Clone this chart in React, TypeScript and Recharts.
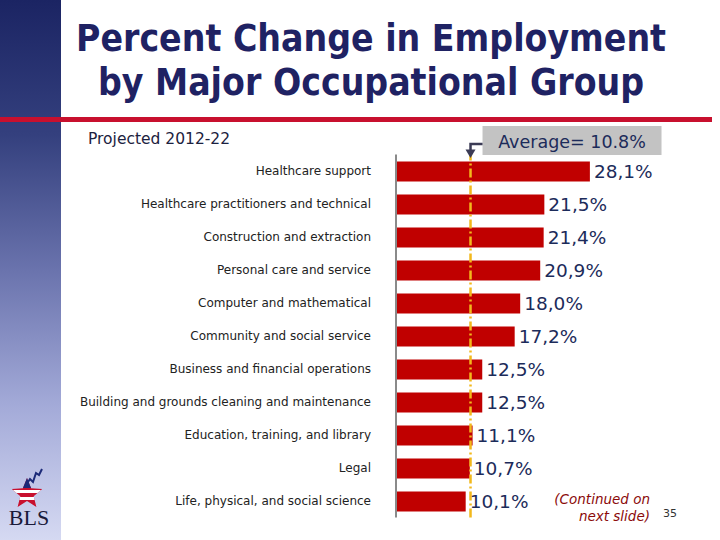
import React from 'react';
import { BarChart, Bar, XAxis, YAxis, ReferenceLine, LabelList } from 'recharts';

const categories = [
  'Healthcare support',
  'Healthcare practitioners and technical',
  'Construction and extraction',
  'Personal care and service',
  'Computer and mathematical',
  'Community and social service',
  'Business and financial operations',
  'Building and grounds cleaning and maintenance',
  'Education, training, and library',
  'Legal',
  'Life, physical, and social science',
];
const values = [28.1, 21.5, 21.4, 20.9, 18.0, 17.2, 12.5, 12.5, 11.1, 10.7, 10.1];
const average = 10.8;
const averageText = 'Average= 10.8%';
const titleLines = ['Percent Change in Employment', 'by Major Occupational Group'];
const subtitle = 'Projected 2012-22';
const footnoteLines = ['(Continued on', 'next slide)'];
const pageNumber = '35';

const data = categories.map((name, i) => ({ name, value: values[i] }));

const fmt = (v: any) => Number(v).toFixed(1).replace('.', ',') + '%';

function AvgLabel(props: any) {
  const vb = props.viewBox || {};
  const x = vb.x ?? 0;
  const top = vb.y ?? 0;
  const boxLeft = x + 12;
  const boxW = 179;
  return (
    <g>
      <rect x={boxLeft} y={top - 28.5} width={boxW} height={29} fill="#c3c3c3" />
      <text
        x={boxLeft + boxW / 2}
        y={top - 7}
        textAnchor="middle"
        fill="#1c2b5a"
        fontSize={17.5}
        fontFamily="DejaVu Sans, sans-serif"
      >
        {averageText}
      </text>
      <path
        d={`M ${boxLeft} ${top - 10.5} H ${x} V ${top - 3}`}
        fill="none"
        stroke="#3b3b55"
        strokeWidth={2.5}
      />
      <polygon
        points={`${x - 5},${top - 5} ${x + 5},${top - 5} ${x},${top + 3.5}`}
        fill="#3b3b55"
      />
    </g>
  );
}

function BlsLogo() {
  const cx = 25;
  const cy = 31;
  const R = 16;
  const r = 7;
  const pts: string[] = [];
  for (let i = 0; i < 10; i++) {
    const ang = -Math.PI / 2 + (i * Math.PI) / 5;
    const rad = i % 2 === 0 ? R : r;
    pts.push(`${cx + rad * Math.cos(ang)},${cy + rad * Math.sin(ang)}`);
  }
  return (
    <svg
      width={56}
      height={70}
      style={{ position: 'absolute', left: 2, top: 463 }}
    >
      <defs>
        <clipPath id="starClip">
          <polygon points={pts.join(' ')} />
        </clipPath>
      </defs>
      <g clipPath="url(#starClip)">
        <rect x={0} y={0} width={56} height={70} fill="#c8102e" />
        <rect x={0} y={27} width={56} height={3} fill="#ffffff" />
        <rect x={0} y={34} width={56} height={3} fill="#ffffff" />
        <rect x={0} y={10} width={56} height={15} fill="#1c2a78" />
      </g>
      <polyline
        points="24,22 28,16 31,19 34,10 37,12 40,6"
        fill="none"
        stroke="#1c2a78"
        strokeWidth={2}
      />
      <text
        x={27}
        y={62}
        textAnchor="middle"
        fontFamily="Liberation Serif, serif"
        fontSize={22}
        fill="#1a1a3a"
      >
        BLS
      </text>
    </svg>
  );
}

export default function App() {
  return (
    <div
      style={{
        position: 'absolute',
        left: 0,
        top: 0,
        width: 720,
        height: 540,
        background: '#ffffff',
        overflow: 'hidden',
      }}
    >
      <div
        style={{
          position: 'absolute',
          left: 0,
          top: 0,
          width: 61,
          height: 540,
          background:
            'linear-gradient(to bottom, #1b2463 0%, #34407e 25%, #6a73ad 50%, #a3aad8 75%, #d5d9f2 100%)',
        }}
      />
      <div
        style={{
          position: 'absolute',
          left: 0,
          top: 117,
          width: 712,
          height: 5,
          background: '#c8102e',
        }}
      />
      <div
        style={{
          position: 'absolute',
          left: 71,
          top: 17,
          width: 600,
          textAlign: 'center',
          fontFamily: 'DejaVu Sans Condensed, DejaVu Sans, sans-serif',
          fontWeight: 'bold',
          fontSize: 37,
          lineHeight: '44px',
          color: '#1f2263',
          whiteSpace: 'nowrap',
        }}
      >
        {titleLines.map((t) => (
          <div key={t}>{t}</div>
        ))}
      </div>
      <div
        style={{
          position: 'absolute',
          left: 88,
          top: 130,
          fontFamily: 'DejaVu Sans, sans-serif',
          fontSize: 15.5,
          color: '#1c2240',
          whiteSpace: 'nowrap',
        }}
      >
        {subtitle}
      </div>
      <BlsLogo />
      <div
        style={{
          position: 'absolute',
          right: 70,
          top: 491,
          textAlign: 'right',
          fontFamily: 'DejaVu Sans, sans-serif',
          fontStyle: 'italic',
          fontSize: 13.5,
          lineHeight: '17px',
          color: '#8b0a0a',
          whiteSpace: 'nowrap',
        }}
      >
        {footnoteLines.map((t) => (
          <div key={t}>{t}</div>
        ))}
      </div>
      <div
        style={{
          position: 'absolute',
          left: 663,
          top: 507,
          fontFamily: 'DejaVu Sans, sans-serif',
          fontSize: 11,
          color: '#333333',
        }}
      >
        {pageNumber}
      </div>
      <div style={{ position: 'absolute', left: 0, top: 0 }}>
        <BarChart
          width={720}
          height={540}
          data={data}
          layout="vertical"
          margin={{ top: 154.5, right: 117, bottom: 22.5, left: 0 }}
        >
          <XAxis type="number" domain={[0, 30]} hide />
          <YAxis
            type="category"
            dataKey="name"
            width={396}
            interval={0}
            tickLine={false}
            tickSize={0}
            tickMargin={25}
            axisLine={{ stroke: '#8a8a8a', strokeWidth: 2 }}
            tick={{ fill: '#222222', fontSize: 12, fontFamily: 'DejaVu Sans, sans-serif' }}
          />
          <Bar dataKey="value" fill="#c00000" barSize={20} isAnimationActive={false}>
            <LabelList
              dataKey="value"
              position="right"
              offset={4}
              formatter={fmt}
              fill="#1c2b5a"
              fontSize={18.5}
              fontFamily="DejaVu Sans, sans-serif"
            />
          </Bar>
          <ReferenceLine
            x={average}
            stroke="#f2b81c"
            strokeWidth={2.5}
            strokeDasharray="9 3 2 3"
            label={<AvgLabel />}
          />
        </BarChart>
      </div>
    </div>
  );
}
